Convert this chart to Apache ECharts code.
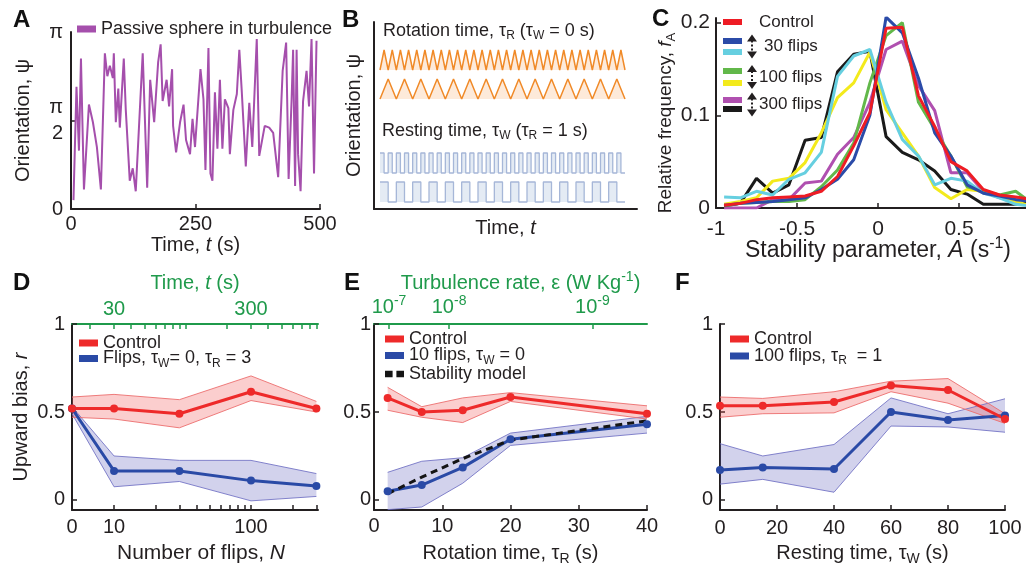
<!DOCTYPE html>
<html>
<head>
<meta charset="utf-8">
<script src="https://cdn.jsdelivr.net/npm/echarts@6/dist/echarts.min.js"></script>
<style>
html, body { margin: 0; padding: 0; background: #fff; }
#main { width: 1026px; height: 567px; }
</style>
</head>
<body>
<div id="main"></div>
<script>
// ---- A: passive sphere in turbulence (orientation in units of pi)
var passiveTime = [5,11,16,20,26,36,44,52,60,68,73,78,84,86,90,95,98,106,110,118,124,130,144,153,159,167,175,180,184,192,197,203,205,211,219,226,231,239,244,249,260,266,270,276,280,284,289,294,299,304,309,316,319,326,333,338,343,351,358,364,373,378,389,398,406,416,425,432,437,443,446,450,453,456,461,466,473,478,483,488,493];
var passivePsi = [0.05,0.69,0.33,0.85,0.11,0.59,0.49,0.35,0.11,0.88,0.75,0.81,0.74,0.88,0.49,0.68,0.46,0.85,0.56,0.16,0.23,0.10,0.88,0.12,0.73,0.49,0.83,0.93,0.61,0.73,0.58,0.79,0.47,0.32,0.49,0.59,0.39,0.31,0.51,0.35,0.79,0.62,0.22,0.91,0.20,0.16,0.66,0.34,0.73,0.34,0.62,0.57,0.31,0.56,0.65,0.90,0.66,0.24,0.60,0.35,0.96,0.30,0.47,0.46,0.43,0.18,0.78,0.94,0.17,0.62,0.90,0.13,0.90,0.31,0.10,0.61,0.78,0.58,0.96,0.20,0.95];

// ---- B: protocol sketches (0 = down, 1 = up)
var zigzagFast = [0,1,0,1,0,1,0,1,0,1, 0,1,0,1,0,1,0,1,0,1, 0,1,0,1,0,1,0,1,0,1, 0,1,0,1,0,1,0,1,0,1, 0,1,0,1,0,1,0,1,0,1, 0,1,0,1,0,1,0,1,0,1, 0];
var zigzagSlow = [0,1,0,1,0,1,0,1,0,1, 0,1,0,1,0,1,0,1,0,1, 0,1,0,1,0,1,0,1,0,1, 0];
var restShort = [1,0,1,0,1,0,1,0,1,0, 1,0,1,0,1,0,1,0,1,0, 1,0,1,0,1,0,1,0,1,0, 1,0,1,0,1,0,1,0,1,0, 1,0,1,0,1,0,1,0,1,0, 1,0,1,0,1,0,1,0,1,0, 0];
var restLong = [1,0,1,0,1,0,1,0,1,0, 1,0,1,0,1,0,1,0,1,0, 1,0,1,0,1,0,1,0,1,0, 0];

// ---- C: stability parameter histograms
var stabilityBins = [-0.95,-0.85,-0.75,-0.65,-0.55,-0.45,-0.35,-0.25,-0.15,-0.05,0.05,0.15,0.25,0.35,0.45,0.55,0.65,0.75,0.85,0.95];
var freqControl = [0.003,0.005,0.009,0.011,0.012,0.013,0.018,0.034,0.067,0.103,0.194,0.195,0.121,0.088,0.05,0.04,0.02,0.014,0.012,0.009];
var freq30Control = [0.003,0.005,0.006,0.007,0.009,0.011,0.02,0.031,0.052,0.1,0.206,0.189,0.14,0.081,0.056,0.025,0.016,0.013,0.009,0.007];
var freq30Flips = [0.012,0.011,0.018,0.014,0.031,0.038,0.06,0.142,0.164,0.171,0.114,0.074,0.056,0.025,0.032,0.029,0.016,0.011,0.004,0.002];
var freq100Control = [0.002,0.005,0.006,0.007,0.007,0.009,0.023,0.041,0.07,0.135,0.186,0.2,0.114,0.085,0.056,0.023,0.018,0.014,0.018,0.005];
var freq100Flips = [0.004,0.007,0.011,0.029,0.032,0.049,0.081,0.119,0.135,0.168,0.106,0.081,0.056,0.022,0.01,0.02,0.018,0.014,0.007,0.002];
var freq300Control = [0,0,0,0.009,0.009,0.027,0.029,0.058,0.076,0.114,0.171,0.18,0.132,0.105,0.038,0.038,0.018,0.011,0.01,0.009];
var freq300Flips = [0.002,0.005,0.032,0.016,0.025,0.073,0.076,0.147,0.166,0.169,0.077,0.06,0.052,0.04,0.02,0.015,0.004,0.004,0.004,0.007];

// ---- D: upward bias vs number of flips
var flipsN = [0, 10, 30, 100, 300];
var dControl = [0.52, 0.52, 0.49, 0.615, 0.52];
var dControlLo = [0.47, 0.46, 0.41, 0.565, 0.50];
var dControlHi = [0.585, 0.60, 0.57, 0.705, 0.56];
var dFlips = [0.52, 0.165, 0.165, 0.11, 0.08];
var dFlipsLo = [0.49, 0.075, 0.105, -0.005, 0.02];
var dFlipsHi = [0.53, 0.25, 0.225, 0.225, 0.15];
var flipTickN = [10, 20, 30, 40, 50, 60, 70, 80, 90, 100, 200, 300];
var timeLabels = [30, 300];
var timeTicks = [20, 30, 40, 50, 60, 70, 80, 90, 100, 200, 300, 400, 500, 600, 700, 800, 900];
var FLIP_TIME = 3;

// ---- E: upward bias vs rotation time
var rotationTime = [2, 7, 13, 20, 40];
var eControl = [0.58, 0.50, 0.51, 0.585, 0.49];
var eControlLo = [0.51, 0.47, 0.44, 0.56, 0.46];
var eControlHi = [0.64, 0.53, 0.58, 0.61, 0.535];
var eFlips = [0.05, 0.085, 0.185, 0.345, 0.43];
var eFlipsLo = [-0.055, -0.04, 0.095, 0.31, 0.38];
var eFlipsHi = [0.157, 0.22, 0.24, 0.38, 0.475];
var stabilityModel = [0.035, 0.13, 0.235, 0.34, 0.45];
var turbulenceAt = [2.2, 11, 32];
var turbulenceExp = ['-7', '-8', '-9'];

// ---- F: upward bias vs resting time
var restingTime = [0, 15, 40, 60, 80, 100];
var fControl = [0.535, 0.535, 0.557, 0.65, 0.625, 0.46];
var fControlLo = [0.47, 0.49, 0.495, 0.615, 0.55, 0.435];
var fControlHi = [0.585, 0.577, 0.615, 0.675, 0.69, 0.49];
var fFlips = [0.17, 0.185, 0.176, 0.5, 0.455, 0.48];
var fFlipsLo = [0.09, 0.117, 0.044, 0.42, 0.415, 0.385];
var fFlipsHi = [0.32, 0.25, 0.315, 0.58, 0.49, 0.575];

var FONT = '"Liberation Sans", Arial, Helvetica, sans-serif';
var INK = '#231f20';
var GREEN = '#1f9a4b';
var RED = '#ee2a2a';
var BLUE = '#2a4aa6';
var RED_FILL = 'rgba(240,80,80,0.28)';
var RED_EDGE = 'rgba(236,110,110,0.9)';
var BLUE_FILL = 'rgba(95,95,185,0.28)';
var BLUE_EDGE = 'rgba(110,110,195,0.85)';
var PURPLE = '#a54fac';
var ORANGE = '#f08a28';
var ORANGE_FILL = 'rgba(250,190,140,0.45)';
var REST_LINE = '#a6b7d8';
var REST_FILL = 'rgba(195,210,230,0.65)';

var DLOG_MIN = 0.693, DLOG_MAX = 2.489;
var YMIN = -0.057;

function textRich(size, color, lh) {
  var small = Math.round(size * 0.68);
  return {
    n: {fontSize: size, fontFamily: FONT, color: color, fill: color, lineHeight: lh},
    i: {fontSize: size, fontFamily: FONT, color: color, fill: color, lineHeight: lh, fontStyle: 'italic'},
    s: {fontSize: small, fontFamily: FONT, color: color, fill: color, lineHeight: small, verticalAlign: 'bottom'},
    u: {fontSize: small, fontFamily: FONT, color: color, fill: color, lineHeight: small, verticalAlign: 'top'}
  };
}
function pairs(xs, ys) { return xs.map(function (x, i) { return [x, ys[i]]; }); }
function gridAt(left, top, width, height) {
  return {left: left, top: top, width: width, height: height, containLabel: false, outerBoundsMode: 'none'};
}
function axisLine(color) { return {show: true, onZero: false, lineStyle: {color: color, width: 2}}; }
function ticks(color, values) {
  var t = {show: true, inside: true, length: 5, lineStyle: {color: color, width: 1.5}};
  if (values) t.customValues = values;
  return t;
}
function labels(color, values, margin, fmt, size) {
  var fs = size || 20;
  var l = {show: true, margin: margin, fontSize: fs, fontFamily: FONT, color: color, rich: textRich(fs, color, fs + 6)};
  if (values) l.customValues = values;
  if (fmt) l.formatter = fmt;
  return l;
}
function nameStyle(color, size) {
  var fs = size || 20;
  return {fontSize: fs, fontFamily: FONT, color: color, rich: textRich(fs, color, fs + 6)};
}
function hiddenAxis(gi, max) { return {gridIndex: gi, type: 'value', min: 0, max: max, show: false}; }

var grids = [
  gridAt(71, 32, 249, 177),    // 0 A
  gridAt(374, 22, 263, 187),   // 1 B frame
  gridAt(380, 50, 245, 20),    // 2 B fast rotation
  gridAt(380, 79, 245, 20),    // 3 B slow rotation
  gridAt(380, 153, 245, 20),   // 4 B short rest
  gridAt(380, 182, 245, 20),   // 5 B long rest
  gridAt(716, 18, 324, 190),   // 6 C
  gridAt(72, 324, 246, 186),   // 7 D
  gridAt(374, 324, 273, 186),  // 8 E
  gridAt(720, 324, 285, 186)   // 9 F
];

var xAxes = [
  {gridIndex: 0, type: 'value', min: 0, max: 500, axisLine: axisLine(INK), axisTick: ticks(INK, [250, 500]),
    axisLabel: labels(INK, [0, 250, 500], 5), splitLine: {show: false},
    name: '{n|Time, }{i|t}{n| (s)}', nameLocation: 'middle', nameGap: 23, nameTextStyle: nameStyle(INK)},
  {gridIndex: 1, type: 'value', min: 0, max: 1, axisLine: axisLine(INK), axisTick: {show: false}, axisLabel: {show: false},
    splitLine: {show: false}, name: '{n|Time, }{i|t}', nameLocation: 'middle', nameGap: 6, nameTextStyle: nameStyle(INK)},
  hiddenAxis(2, zigzagFast.length - 1),
  hiddenAxis(3, zigzagSlow.length - 1),
  hiddenAxis(4, restShort.length - 1),
  hiddenAxis(5, restLong.length - 1),
  {gridIndex: 6, type: 'value', min: -1, max: 1, axisLine: axisLine(INK), axisTick: ticks(INK, [-0.5, 0, 0.5]),
    axisLabel: labels(INK, [-1, -0.5, 0, 0.5, 1], 11, null, 21), splitLine: {show: false},
    name: '{n|Stability parameter, }{i|A}{n| (s}{u|-1}{n|)}', nameLocation: 'middle', nameGap: 28,
    nameTextStyle: nameStyle(INK, 23)},
  {gridIndex: 7, type: 'value', min: DLOG_MIN, max: DLOG_MAX, axisLine: axisLine(INK),
    axisTick: ticks(INK, flipTickN.map(function (n) { return Math.log10(n); })),
    axisLabel: labels(INK, [DLOG_MIN, 1, 2], 7, function (v) {
      return v < 0.9 ? '0' : String(Math.round(Math.pow(10, v)));
    }),
    splitLine: {show: false}, name: '{n|Number of flips, }{i|N}', nameLocation: 'middle', nameGap: 30,
    nameTextStyle: Object.assign(nameStyle(INK, 21), {padding: [0, 0, 0, 12]})},
  {gridIndex: 7, type: 'value', position: 'top', min: DLOG_MIN, max: DLOG_MAX, axisLine: axisLine(GREEN),
    axisTick: ticks(GREEN, timeTicks.map(function (t) { return Math.log10(t / FLIP_TIME); })),
    axisLabel: labels(GREEN, timeLabels.map(function (t) { return Math.log10(t / FLIP_TIME); }), 5, function (v) {
      return String(Math.round(FLIP_TIME * Math.pow(10, v)));
    }),
    splitLine: {show: false}, name: '{n|Time, }{i|t}{n| (s)}', nameLocation: 'middle', nameGap: 28, nameTextStyle: nameStyle(GREEN)},
  {gridIndex: 8, type: 'value', min: 0, max: 40, interval: 10, axisLine: axisLine(INK), axisTick: ticks(INK),
    axisLabel: labels(INK, null, 6), splitLine: {show: false},
    name: '{n|Rotation time, τ}{s|R}{n| (s)}', nameLocation: 'middle', nameGap: 30, nameTextStyle: nameStyle(INK)},
  {gridIndex: 8, type: 'value', position: 'top', min: 0, max: 40, axisLine: axisLine(GREEN), axisTick: ticks(GREEN, turbulenceAt),
    axisLabel: labels(GREEN, turbulenceAt, 4, function (v) {
      var k = 0;
      turbulenceAt.forEach(function (p, i) { if (Math.abs(p - v) < Math.abs(turbulenceAt[k] - v)) k = i; });
      return '{n|10}{u|' + turbulenceExp[k] + '}';
    }),
    splitLine: {show: false}, name: '{n|Turbulence rate, ε (W Kg}{u|-1}{n|)}', nameLocation: 'middle', nameGap: 28,
    nameTextStyle: Object.assign(nameStyle(GREEN), {padding: [0, 0, 0, 20]})},
  {gridIndex: 9, type: 'value', min: 0, max: 100, interval: 20, axisLine: axisLine(INK), axisTick: ticks(INK),
    axisLabel: labels(INK, null, 8), splitLine: {show: false},
    name: '{n|Resting time, τ}{s|W}{n| (s)}', nameLocation: 'middle', nameGap: 30, nameTextStyle: nameStyle(INK)}
];

function biasY(gi, margin, withName) {
  var y = {gridIndex: gi, type: 'value', min: YMIN, max: 1, axisLine: axisLine(INK), axisTick: ticks(INK, [0, 0.5, 1]),
    axisLabel: labels(INK, [0, 0.5, 1], margin), splitLine: {show: false}};
  if (withName) {
    y.name = '{n|Upward bias, }{i|r}';
    y.nameLocation = 'middle';
    y.nameRotate = 90;
    y.nameGap = 38;
    y.nameTextStyle = nameStyle(INK);
  }
  return y;
}

var yAxes = [
  {gridIndex: 0, type: 'value', min: 0, max: 1, axisLine: axisLine(INK), axisTick: ticks(INK, [0.5]),
    axisLabel: labels(INK, [0, 0.5, 1], 8, function (v) {
      if (v === 0) return '0';
      if (v === 1) return 'π';
      return '{n|π}\n{n|2}';
    }),
    splitLine: {show: false}, name: '{n|Orientation, ψ}', nameLocation: 'middle', nameRotate: 90, nameGap: 35, nameTextStyle: nameStyle(INK)},
  {gridIndex: 1, type: 'value', min: 0, max: 1, axisLine: axisLine(INK), axisTick: {show: false}, axisLabel: {show: false},
    splitLine: {show: false}, name: '{n|Orientation, ψ}', nameLocation: 'middle', nameRotate: 90, nameGap: 7, nameTextStyle: nameStyle(INK)},
  hiddenAxis(2, 1), hiddenAxis(3, 1), hiddenAxis(4, 1), hiddenAxis(5, 1),
  {gridIndex: 6, type: 'value', min: 0, max: 0.205, axisLine: axisLine(INK), axisTick: ticks(INK, [0.1, 0.2]),
    axisLabel: labels(INK, [0, 0.1, 0.2], 6, null, 21), splitLine: {show: false},
    name: '{n|Relative frequency, }{i|f}{s|A}', nameLocation: 'middle', nameRotate: 90, nameGap: 38,
    nameTextStyle: Object.assign(nameStyle(INK, 19), {padding: [0, 20, 0, 0]})},
  biasY(7, 7, true),
  biasY(8, 3, false),
  biasY(9, 7, false)
];
xAxes.concat(yAxes).forEach(function (a) { a.nameMoveOverlap = false; });

var series = [];

// A
series.push({type: 'line', name: 'Passive sphere in turbulence', xAxisIndex: 0, yAxisIndex: 0,
  data: pairs(passiveTime, passivePsi), symbol: 'none', lineStyle: {color: PURPLE, width: 2}, itemStyle: {color: PURPLE}});

// B
function zigSeries(idx, arr) {
  return {type: 'line', xAxisIndex: idx, yAxisIndex: idx, data: arr.map(function (v, i) { return [i, v]; }),
    symbol: 'none', clip: false, silent: true, lineStyle: {color: ORANGE, width: 1.5},
    areaStyle: {color: ORANGE_FILL, origin: 'start'}};
}
function restSeries(idx, arr) {
  return {type: 'line', xAxisIndex: idx, yAxisIndex: idx, data: arr.map(function (v, i) { return [i, v]; }),
    step: 'end', symbol: 'none', clip: false, silent: true, lineStyle: {color: REST_LINE, width: 1.3},
    areaStyle: {color: REST_FILL, origin: 'start'}};
}
series.push(zigSeries(2, zigzagFast), zigSeries(3, zigzagSlow), restSeries(4, restShort), restSeries(5, restLong));

// C
var cSeries = [
  {data: freqControl, color: '#ee1c24'},
  {data: freq30Control, color: '#2b4ba8'},
  {data: freq30Flips, color: '#66cfe0'},
  {data: freq100Control, color: '#62b84a'},
  {data: freq100Flips, color: '#f3ea1c'},
  {data: freq300Control, color: '#b050b0'},
  {data: freq300Flips, color: '#1a1a1a'}
];
for (var k = cSeries.length - 1; k >= 0; k--) {
  series.push({type: 'line', xAxisIndex: 6, yAxisIndex: 6, data: pairs(stabilityBins, cSeries[k].data),
    symbol: 'none', silent: true, lineStyle: {color: cSeries[k].color, width: 3}});
}

// D, E, F: shaded error bands (custom polygon through the axes) + edges + mean lines
function band(xi, yi, xs, lo, hi, fill, edge) {
  return [
    {type: 'custom', xAxisIndex: xi, yAxisIndex: yi, silent: true, clip: true,
      data: xs.map(function (x, i) { return [x, lo[i], hi[i]]; }),
      encode: {x: 0, y: [1, 2]},
      renderItem: function (params, api) {
        if (params.dataIndex !== 0) return null;
        var pts = [];
        for (var i = 0; i < xs.length; i++) pts.push(api.coord([xs[i], hi[i]]));
        for (var j = xs.length - 1; j >= 0; j--) pts.push(api.coord([xs[j], lo[j]]));
        return {type: 'polygon', shape: {points: pts}, style: {fill: fill}};
      }},
    {type: 'line', xAxisIndex: xi, yAxisIndex: yi, data: pairs(xs, lo), symbol: 'none', silent: true,
      lineStyle: {color: edge, width: 1}},
    {type: 'line', xAxisIndex: xi, yAxisIndex: yi, data: pairs(xs, hi), symbol: 'none', silent: true,
      lineStyle: {color: edge, width: 1}}
  ];
}
function mainLine(name, xi, yi, xs, ys, color) {
  return {type: 'line', name: name, xAxisIndex: xi, yAxisIndex: yi,
    data: pairs(xs, ys), symbol: 'circle', symbolSize: 8, lineStyle: {color: color, width: 3},
    itemStyle: {color: color, borderWidth: 0}};
}
var dX = flipsN.map(function (n) { return n === 0 ? DLOG_MIN : Math.log10(n); });
series = series.concat(
  band(7, 7, dX, dFlipsLo, dFlipsHi, BLUE_FILL, BLUE_EDGE),
  band(7, 7, dX, dControlLo, dControlHi, RED_FILL, RED_EDGE),
  [mainLine('Flips', 7, 7, dX, dFlips, BLUE), mainLine('Control', 7, 7, dX, dControl, RED)],
  band(9, 8, rotationTime, eFlipsLo, eFlipsHi, BLUE_FILL, BLUE_EDGE),
  band(9, 8, rotationTime, eControlLo, eControlHi, RED_FILL, RED_EDGE),
  [mainLine('10 flips', 9, 8, rotationTime, eFlips, BLUE),
    {type: 'line', name: 'Stability model', xAxisIndex: 9, yAxisIndex: 8, data: pairs(rotationTime, stabilityModel),
      symbol: 'none', lineStyle: {color: '#151515', width: 3, type: [7, 5]}, itemStyle: {color: '#151515'}},
    mainLine('Control', 9, 8, rotationTime, eControl, RED)],
  band(11, 9, restingTime, fFlipsLo, fFlipsHi, BLUE_FILL, BLUE_EDGE),
  band(11, 9, restingTime, fControlLo, fControlHi, RED_FILL, RED_EDGE),
  [mainLine('100 flips', 11, 9, restingTime, fFlips, BLUE), mainLine('Control', 11, 9, restingTime, fControl, RED)]
);

var legendText = {
  'Passive sphere in turbulence': '{n|Passive sphere in turbulence}',
  'Control': '{n|Control}',
  'Flips': '{n|Flips, τ}{s|W}{n|= 0, τ}{s|R}{n| = 3}',
  '10 flips': '{n|10 flips, τ}{s|W}{n| = 0}',
  'Stability model': '{n|Stability model}',
  '100 flips': '{n|100 flips, τ}{s|R}{n|  = 1}'
};
function legendAt(names, left, top, gap) {
  return {data: names, left: left, top: top, orient: 'vertical', icon: 'rect', itemWidth: 19, itemHeight: 7,
    itemGap: gap, padding: 0, selectedMode: false, itemStyle: {borderWidth: 0},
    textStyle: {fontSize: 18, fontFamily: FONT, color: INK, rich: textRich(18, INK, 22)},
    formatter: function (name) { return legendText[name]; }};
}
var legends = [
  legendAt(['Passive sphere in turbulence'], 77, 20, 0),
  legendAt(['Control', 'Flips'], 79, 334, -2.5),
  legendAt(['Control', '10 flips', {name: 'Stability model', icon: 'path://M0,0H8V7H0Z M12,0H20V7H12Z'}], 385, 330, -1.5),
  legendAt(['Control', '100 flips'], 730, 330, -1)
];

// graphic: panel letters, B captions, C legend
var graphics = [];
[['A', 13, 8], ['B', 342, 8], ['C', 652, 7], ['D', 13, 271], ['E', 344, 271], ['F', 675, 271]].forEach(function (p) {
  graphics.push({type: 'text', x: p[1], y: p[2], silent: true,
    style: {text: p[0], fontSize: 24, fontWeight: 'bold', fontFamily: FONT, fill: '#111', verticalAlign: 'top'}});
});
graphics.push({type: 'text', x: 383, y: 31, silent: true,
  style: {text: '{n|Rotation time, τ}{s|R}{n| (τ}{s|W}{n| = 0 s)}', rich: textRich(18, INK, 22), verticalAlign: 'middle'}});
graphics.push({type: 'text', x: 382, y: 131, silent: true,
  style: {text: '{n|Resting time, τ}{s|W}{n| (τ}{s|R}{n| = 1 s)}', rich: textRich(18, INK, 22), verticalAlign: 'middle'}});

var cSwatchY = [22, 41, 52, 71, 83, 100, 109];
cSeries.forEach(function (s, i) {
  graphics.push({type: 'rect', silent: true, shape: {x: 723, y: cSwatchY[i] - 3, width: 19, height: 6}, style: {fill: s.color}});
});
[['Control', 759, 22], ['30 flips', 764, 46], ['100 flips', 759, 77], ['300 flips', 759, 104]].forEach(function (t) {
  graphics.push({type: 'text', x: t[1], y: t[2], silent: true,
    style: {text: t[0], fontSize: 17, fontFamily: FONT, fill: INK, verticalAlign: 'middle'}});
});
[46.5, 77, 104.5].forEach(function (c) {
  graphics.push({type: 'line', silent: true, shape: {x1: 752, y1: c - 6, x2: 752, y2: c + 6},
    style: {stroke: INK, lineWidth: 2, lineDash: [2, 2]}});
  graphics.push({type: 'polygon', silent: true, shape: {points: [[747, c - 5], [757, c - 5], [752, c - 12]]}, style: {fill: INK}});
  graphics.push({type: 'polygon', silent: true, shape: {points: [[747, c + 5], [757, c + 5], [752, c + 12]]}, style: {fill: INK}});
});

var myChart = echarts.init(document.getElementById('main'));
myChart.setOption({
  animation: false,
  backgroundColor: '#fff',
  textStyle: {fontFamily: FONT},
  grid: grids,
  xAxis: xAxes,
  yAxis: yAxes,
  legend: legends,
  graphic: graphics,
  series: series
});
</script>
</body>
</html>
